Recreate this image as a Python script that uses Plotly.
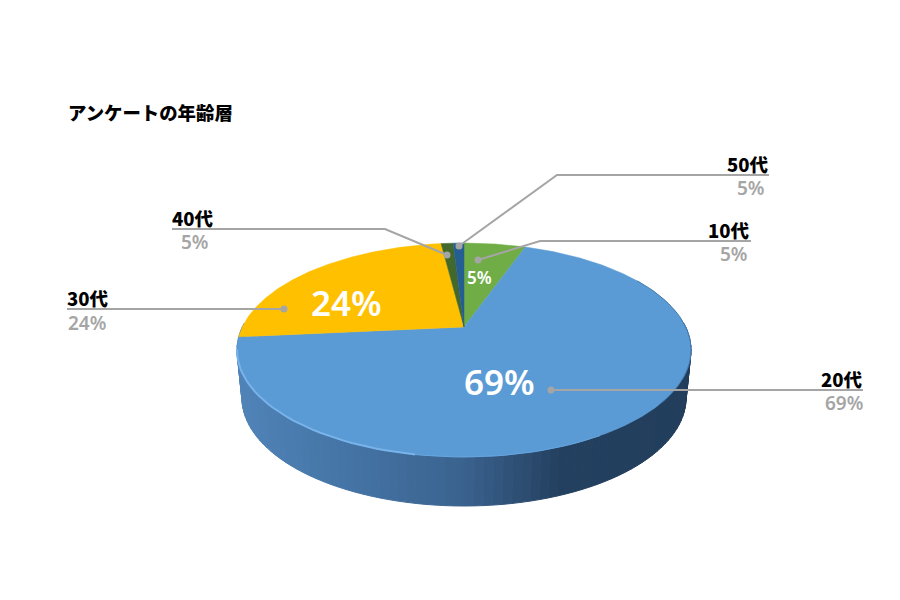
#!/usr/bin/env python3

import math
import plotly.graph_objects as go

# =====================
# Chart data
# =====================
title = "アンケートの年齢層"
categories = ["10代", "20代", "30代", "40代", "50代"]
# what the labels print
label_percent = ["5%", "69%", "24%", "5%", "5%"]
# what the slices really measure
slice_share = [5.4, 68.1, 24.5, 1.05, 0.95]

slice_colors = ["#70ad47", "#5b9bd5", "#ffc000", "#43682b", "#255e91"]

# =====================
# Layout constants (page pixels)
# =====================
CX, APEX_Y = 464, 327
RX, RY, TILT = 221.7, 102, 0.215
WALL_SCALE_X, WALL_SHIFT_Y = 0.978, 48
GREY = "#a5a5a5"

# wall colour stops: page x -> rgb
wall_stops = [
    (237, (80, 131, 184)),
    (330, (70, 118, 168)),
    (464, (58, 98, 142)),
    (560, (36, 64, 96)),
    (691, (34, 62, 92)),
]

# leader polyline and label corner for each category
leader_paths = [
    [(751, 241), (540, 241), (478, 260)],
    [(863, 390), (551, 390)],
    [(67, 309), (284, 309)],
    [(172, 229), (385, 229), (447, 255)],
    [(769, 175), (557, 175), (459, 246)],
]
# x, anchor, name y, percent y, percent x
label_places = [
    (750, "right", 230, 254, 748),
    (863, "right", 379, 403, 863),
    (67, "left", 298, 323, 68),
    (172, "left", 218, 242, 181),
    (769, "right", 164, 188, 765),
]
# text inside the slices: x, y, font size (None = no label)
inner_labels = [(479, 277, 17), (499, 381, 35), (346, 302, 35), None, None]

# rim accents: start angle, end angle, colour, width
rim_accents = [
    (60, 130, "#437bb0", 1),
    (150, 190, "#66a5df", 1),
    (190, 258, "#78b3ea", 2),
]


def project(angle_deg, r=1.0):
    """Angle clockwise from the top of the disc -> page pixels, with perspective."""
    a = math.radians(angle_deg)
    u, v = r * math.sin(a), r * math.cos(a)
    w = 1 + TILT * v
    return CX + RX * u / w, APEX_Y - RY * v / w


def wall_point(x, y):
    return CX + (x - CX) * WALL_SCALE_X, y + WALL_SHIFT_Y + (y - 350) * 0.01


def wall_color(x):
    for (x0, c0), (x1, c1) in zip(wall_stops, wall_stops[1:]):
        if x <= x1:
            t = max(0, (x - x0) / (x1 - x0))
            rgb = [round(p + (q - p) * t) for p, q in zip(c0, c1)]
            return f"rgb({rgb[0]},{rgb[1]},{rgb[2]})"
    return f"rgb{wall_stops[-1][1]}"


fig = go.Figure()

# =====================
# Slice angles from the data
# =====================
total = sum(slice_share)
edges = [0.0]
for share in slice_share:
    edges.append(edges[-1] + share / total * 360)

# =====================
# Side wall (front half of the disc, drawn as thin strips)
# =====================
deg = 88.0
while deg < 272.0:
    x0, y0 = project(deg)
    x1, y1 = project(deg + 2)
    bx0, by0 = wall_point(x0, y0)
    bx1, by1 = wall_point(x1, y1)
    col = wall_color((x0 + x1) / 2)
    fig.add_trace(
        go.Scatter(
            x=[x0, x1, bx1, bx0, x0],
            y=[y0, y1, by1, by0, y0],
            mode="lines",
            fill="toself",
            fillcolor=col,
            line=dict(color=col, width=1),
            hoverinfo="skip",
        )
    )
    deg += 2

# =====================
# Top surface
# =====================
for i, color in enumerate(slice_colors):
    steps = max(2, int((edges[i + 1] - edges[i]) * 2))
    rim = [project(edges[i] + (edges[i + 1] - edges[i]) * k / steps) for k in range(steps + 1)]
    xs = [CX] + [p[0] for p in rim] + [CX]
    ys = [APEX_Y] + [p[1] for p in rim] + [APEX_Y]
    fig.add_trace(
        go.Scatter(
            x=xs,
            y=ys,
            mode="lines",
            fill="toself",
            fillcolor=color,
            line=dict(color=color, width=0.5),
            hoverinfo="skip",
        )
    )

# bevel along the rim
for start, end, color, width in rim_accents:
    pts = [project(d) for d in range(start, end + 1, 2)]
    fig.add_trace(
        go.Scatter(
            x=[p[0] for p in pts],
            y=[p[1] for p in pts],
            mode="lines",
            line=dict(color=color, width=width),
            hoverinfo="skip",
        )
    )

# =====================
# Leaders
# =====================
for path in leader_paths:
    fig.add_trace(
        go.Scatter(
            x=[p[0] for p in path],
            y=[p[1] for p in path],
            mode="lines",
            line=dict(color=GREY, width=2),
            hoverinfo="skip",
        )
    )
    fig.add_trace(
        go.Scatter(
            x=[path[-1][0]],
            y=[path[-1][1]],
            mode="markers",
            marker=dict(color=GREY, size=7),
            hoverinfo="skip",
        )
    )

# =====================
# Texts
# =====================
annotations = [
    dict(
        x=68,
        y=112,
        text=title,
        xanchor="left",
        font=dict(family="Noto Sans CJK JP", size=18.4, color="#000000", weight=900),
    )
]
for name, pct, place, inner in zip(categories, label_percent, label_places, inner_labels):
    x, anchor, name_y, pct_y, pct_x = place
    annotations.append(
        dict(
            x=x,
            y=name_y,
            text=name,
            xanchor=anchor,
            font=dict(family="Noto Sans CJK JP", size=18.5, color="#000000", weight=900),
        )
    )
    annotations.append(
        dict(
            x=pct_x,
            y=pct_y,
            text=pct,
            xanchor=anchor,
            font=dict(family="Noto Sans", size=19, color=GREY, weight=600),
        )
    )
    if inner:
        annotations.append(
            dict(
                x=inner[0],
                y=inner[1],
                text=pct,
                xanchor="center",
                font=dict(family="Noto Sans", size=inner[2], color="#ffffff", weight=600),
            )
        )

for a in annotations:
    a.update(xref="x", yref="y", yanchor="middle", showarrow=False, borderpad=0, borderwidth=0)

fig.update_layout(
    width=900,
    height=600,
    margin=dict(l=0, r=0, t=0, b=0),
    paper_bgcolor="#ffffff",
    plot_bgcolor="#ffffff",
    showlegend=False,
    xaxis=dict(range=[0, 900], visible=False, fixedrange=True),
    yaxis=dict(range=[600, 0], visible=False, fixedrange=True),
    annotations=annotations,
)

fig.write_html(
    "out.html",
    config={"displayModeBar": False},
    post_script="document.body.style.margin='0';document.body.style.overflow='hidden';",
)
